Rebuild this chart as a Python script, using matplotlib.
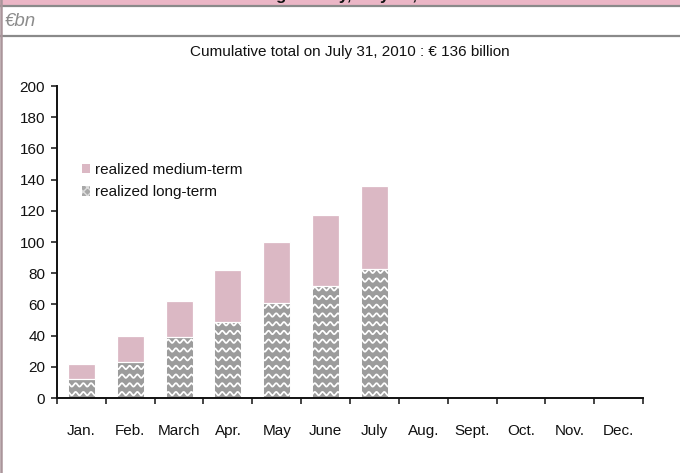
import numpy as np
import matplotlib
matplotlib.use("Agg")
import matplotlib.pyplot as plt
from matplotlib.patches import Rectangle
from matplotlib.lines import Line2D

plt.rcParams['font.family'] = ['Liberation Sans', 'DejaVu Sans']

months = ["Jan.", "Feb.", "March", "Apr.", "May", "June", "July",
          "Aug.", "Sept.", "Oct.", "Nov.", "Dec."]
long_term = [12, 23, 39, 49, 61, 72, 83]
medium_term = [10, 17, 23, 33, 39, 45, 53]
y_ticks = [0, 20, 40, 60, 80, 100, 120, 140, 160, 180, 200]
subtitle = "Cumulative total on July 31, 2010 : \u20ac 136 billion"
unit_label = "\u20acbn"
header = "Funding activity, July 31, 2010"

PINK = "#dbb8c4"
GREY = "#9c9c9c"
TEXT = "#111111"

W, H = 680, 473
fig = plt.figure(figsize=(W / 100, H / 100), dpi=100)
fig.patch.set_facecolor("white")


def fx(px):
    return px / W


def fy(py):
    return 1 - py / H


# header band, unit row and left frame
fig.add_artist(Rectangle((0, fy(5.5)), 1, 5.5 / H, transform=fig.transFigure,
                         facecolor="#ebb6c6", edgecolor="none", zorder=0))
fig.text(0.5, fy(-0.5), header, ha="center", va="baseline", fontsize=12,
         fontweight="bold", color=TEXT)
for py in (6, 36.5):
    fig.add_artist(Line2D([0, 1], [fy(py), fy(py)], transform=fig.transFigure,
                          color="#8a8a8a", lw=1.6))
fig.add_artist(Line2D([fx(1.2), fx(1.2)], [0, 1], transform=fig.transFigure,
                      color="#aa959b", lw=1.8))
fig.text(fx(5), fy(21), unit_label, ha="left", va="center", fontsize=13.5,
         style="italic", color="#8c8c8c")
fig.text(fx(350), fy(52), subtitle, ha="center", va="center",
         fontsize=11, color=TEXT)

# plotting area
ax_l, ax_r, ax_b, ax_t = 57, 643, 398, 86
ax = fig.add_axes([fx(ax_l), 1 - ax_b / H, (ax_r - ax_l) / W, (ax_b - ax_t) / H])
ax.set_xlim(-0.5, len(months) - 0.5)
ax.set_ylim(0, 200)

x = np.arange(len(long_term))
width = 0.55
long_bars = ax.bar(x, long_term, width, color=GREY, edgecolor="white",
                   linewidth=0.7, zorder=2)
ax.bar(x, medium_term, width, bottom=long_term, color=PINK, edgecolor="white",
       linewidth=0.9, zorder=2)

# wavy white pattern inside the long-term bars
period = 0.158
spacing = 5.6
amp = 1.1
for rect in long_bars:
    x0 = rect.get_x()
    xs = np.linspace(x0 - 0.05, x0 + rect.get_width() + 0.05, 200)
    top = rect.get_height()
    level = spacing * 0.5
    while level < top + spacing:
        ys = level + amp * np.sin(2 * np.pi * xs / period)
        ln, = ax.plot(xs, ys, color="white", lw=1.25, zorder=3,
                      solid_capstyle="butt")
        ln.set_clip_path(rect)
        level += spacing

# axes styling
for side in ("top", "right"):
    ax.spines[side].set_visible(False)
for side in ("left", "bottom"):
    ax.spines[side].set_color("#111111")
    ax.spines[side].set_linewidth(1.4)

ax.set_yticks(y_ticks)
ax.set_yticklabels([str(v) for v in y_ticks])
ax.tick_params(axis="y", direction="out", length=4.5, width=1.1,
               color="#111111", pad=4, labelsize=11, labelcolor=TEXT)

ax.set_xticks(np.arange(-0.5, len(months)))
ax.set_xticklabels([])
ax.set_xticks(np.arange(len(months)), minor=True)
ax.set_xticklabels(months, minor=True)
ax.tick_params(axis="x", which="major", direction="out", length=4.5,
               width=1.1, color="#111111")
ax.tick_params(axis="x", which="minor", length=0, pad=19, labelsize=11,
               labelcolor=TEXT)

handles = [
    Rectangle((0, 0), 1, 1, facecolor=PINK, edgecolor="none"),
    Rectangle((0, 0), 1, 1, facecolor="#a8a8a8", edgecolor="#dddddd",
              hatch="xxxx", linewidth=0),
]
ax.legend(handles, ["realized medium-term", "realized long-term"],
          loc="upper left", bbox_to_anchor=(0.029, 0.778), frameon=False,
          fontsize=11, handlelength=0.55, handleheight=0.55,
          handletextpad=0.35, labelspacing=0.55, borderpad=0,
          labelcolor=TEXT)

fig.savefig("out.png", dpi=100, facecolor="white")
